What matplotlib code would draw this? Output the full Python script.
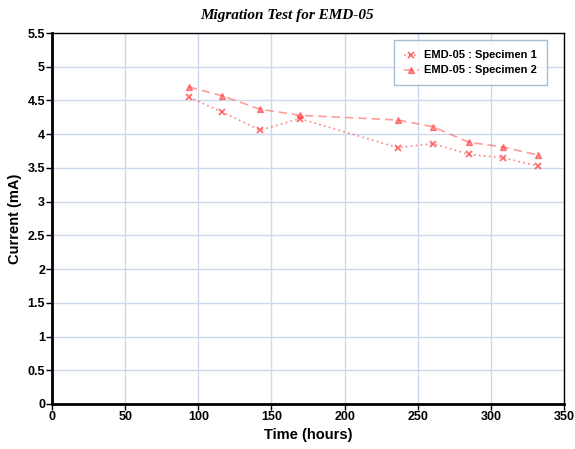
import matplotlib
matplotlib.use("Agg")
import matplotlib.pyplot as plt

time_hours = [93.6, 116.2, 142.2, 169.5, 236.5, 260.4, 285.0, 308.3, 332.2]
specimen1 = [4.55, 4.33, 4.06, 4.23, 3.80, 3.86, 3.70, 3.65, 3.53]
specimen2 = [4.70, 4.57, 4.37, 4.28, 4.21, 4.11, 3.88, 3.81, 3.69]
series_labels = ["EMD-05 : Specimen 1", "EMD-05 : Specimen 2"]
x_ticks = [0, 50, 100, 150, 200, 250, 300, 350]
y_ticks = [0, 0.5, 1, 1.5, 2, 2.5, 3, 3.5, 4, 4.5, 5, 5.5]

plt.rcParams['font.family'] = ['Liberation Sans', 'DejaVu Sans']

fig = plt.figure(figsize=(5.75, 4.49), dpi=100)
ax = fig.add_axes([52/575, 1-404/449, (564-52)/575, (404-33)/449])

red = '#ff5a5a'
ax.plot(time_hours, specimen1, linestyle=(0, (1, 2)), color=red, alpha=0.75, lw=1.2,
        marker='x', markersize=5, markeredgewidth=1.3, markeredgecolor='#ff4040', label=series_labels[0])
ax.plot(time_hours, specimen2, linestyle=(0, (5, 3)), color=red, alpha=0.6, lw=1.2,
        marker='^', markersize=5, markerfacecolor='#ff4040', markeredgecolor='#ff4040', label=series_labels[1])

ax.set_xlim(0, 350)
ax.set_ylim(0, 5.5)
ax.set_xticks(x_ticks)
ax.set_yticks(y_ticks)
ax.set_xticklabels([str(v) for v in x_ticks], fontweight='bold', fontsize=9)
ax.set_yticklabels([f"{v:g}" for v in y_ticks], fontweight='bold', fontsize=9)
ax.grid(True, color='#ccd8ec', lw=1)
ax.set_axisbelow(True)
for s in ax.spines.values():
    s.set_color('black')
    s.set_linewidth(1)
ax.spines['left'].set_linewidth(2)
ax.spines['bottom'].set_linewidth(2)
ax.tick_params(direction='out', length=4, width=1, pad=1)

ax.set_xlabel('Time (hours)', fontweight='bold', fontsize=10.5, labelpad=4)
ax.set_ylabel('Current (mA)', fontweight='bold', fontsize=10.5, labelpad=4)
fig.text(0.5, 1-15/449, 'Migration Test for EMD-05', ha='center', va='center',
         fontsize=11, fontweight='bold', fontstyle='italic', family='Liberation Serif')

leg = ax.legend(loc='upper right', bbox_to_anchor=(0.967, 0.98), frameon=True, fancybox=False,
                prop={'weight': 'bold', 'size': 8}, handlelength=1.3, borderpad=0.9,
                labelspacing=0.45, handletextpad=0.5, borderaxespad=0)
leg.get_frame().set_edgecolor('#8fb0cc')
leg.get_frame().set_linewidth(1)

fig.savefig('out.png', dpi=100)
